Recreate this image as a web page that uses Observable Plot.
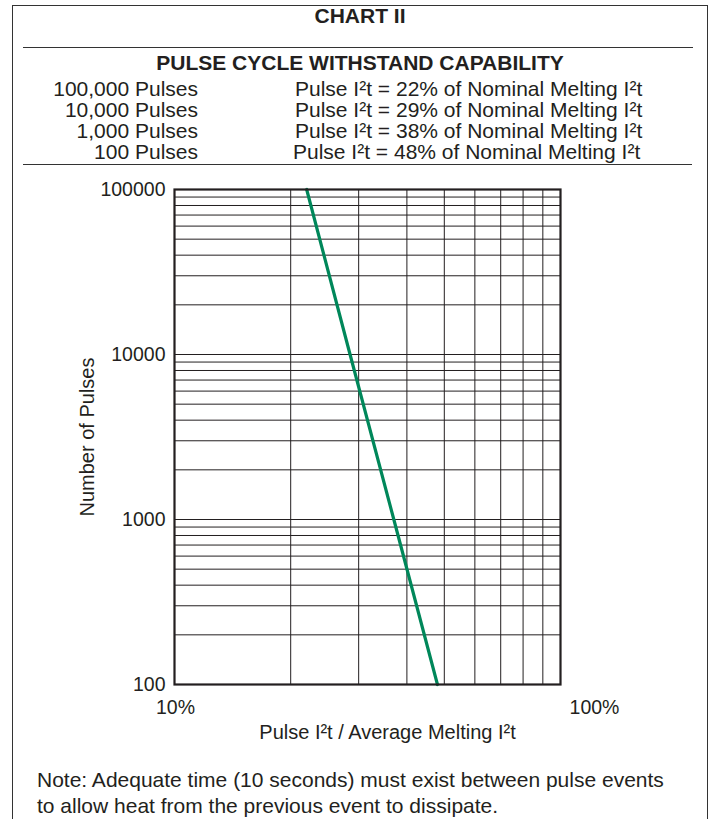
<!DOCTYPE html>
<html>
<head>
<meta charset="utf-8">
<script src="https://cdn.jsdelivr.net/npm/d3@7"></script>
<script src="https://cdn.jsdelivr.net/npm/@observablehq/plot@0.6"></script>
<style>
  html, body { margin: 0; padding: 0; background: #fff; }
  #page { position: relative; width: 711px; height: 819px; overflow: hidden;
          font-family: "Liberation Sans", Arial, Helvetica, sans-serif; color: #231f20; }
  .abs { position: absolute; white-space: nowrap; }
  .rule { position: absolute; border-top: 1.5px solid #333; height: 0; }
  .row { font-size: 21px; line-height: 21px; }
</style>
</head>
<body>
<div id="page">
  <div class="abs" style="left:12px;top:5px;width:694px;height:830px;border:1.5px solid #333;border-bottom:none;"></div>
  <div id="title" class="abs" style="left:12px;width:696px;top:5px;line-height:22px;font-size:21px;font-weight:bold;text-align:center;"></div>
  <div class="rule" style="left:23px;width:670px;top:47px;"></div>
  <div id="subtitle" class="abs" style="left:12px;width:696px;top:52px;line-height:21px;font-size:21px;font-weight:bold;text-align:center;"></div>
  <div id="rows"></div>
  <div class="rule" style="left:23px;width:669px;top:164px;"></div>
  <div id="chart" class="abs" style="left:0;top:160px;"></div>
  <div id="note" class="abs" style="left:37px;top:767px;font-size:21px;line-height:26px;"></div>
</div>
<script>
// ---- data ----
const chartTitle = "CHART II";
const tableTitle = "PULSE CYCLE WITHSTAND CAPABILITY";
const tableCycles = ["100,000 Pulses", "10,000 Pulses", "1,000 Pulses", "100 Pulses"];
const tablePercents = [22, 29, 38, 48];
const curvePulses = [100000, 10000, 1000, 100];
const curvePercent = [22, 28.5, 37, 48];
const yTickValues = [100, 1000, 10000, 100000];
const xTickValues = [10, 100];
const xTickLabels = ["10%", "100%"];
const xTitle = "Pulse I\u00b2t / Average Melting I\u00b2t";
const yTitle = "Number of Pulses";
const noteLines = [
  "Note: Adequate time (10 seconds) must exist between pulse events",
  "to allow heat from the previous event to dissipate."
];

// ---- header ----
document.getElementById("title").textContent = chartTitle;
document.getElementById("subtitle").textContent = tableTitle;
const rows = document.getElementById("rows");
tableCycles.forEach((c, i) => {
  const top = 77.5 + i * 21;
  const l = document.createElement("div");
  l.className = "abs row";
  l.style.cssText = `right:${711 - 198}px;text-align:right;top:${top}px;`;
  l.textContent = c;
  const r = document.createElement("div");
  r.className = "abs row";
  r.style.cssText = `left:${i === 3 ? 293 : 295}px;top:${top}px;`;
  r.textContent = `Pulse I\u00b2t = ${tablePercents[i]}% of Nominal Melting I\u00b2t`;
  rows.appendChild(l);
  rows.appendChild(r);
});
document.getElementById("note").innerHTML = noteLines.join("<br>");

// ---- chart ----
const curve = curvePulses.map((p, i) => ({pulses: p, pct: curvePercent[i]}));
const xGrid = d3.scaleLog().domain([10, 100]).ticks();
const yGrid = d3.scaleLog().domain([100, 100000]).ticks();
const ink = "#231f20";

const chart = Plot.plot({
  width: 711,
  height: 585,
  marginLeft: 174,
  marginRight: 151,
  marginTop: 29,
  marginBottom: 61,
  style: {fontFamily: "'Liberation Sans', Arial, Helvetica, sans-serif", fontSize: "19.5px", color: ink, background: "transparent", overflow: "visible"},
  x: {type: "log", domain: [10, 100]},
  y: {type: "log", domain: [100, 100000]},
  marks: [
    Plot.gridX(xGrid, {stroke: ink, strokeOpacity: 1, strokeWidth: 1}),
    Plot.gridY(yGrid, {stroke: ink, strokeOpacity: 1, strokeWidth: 1}),
    Plot.axisY(yTickValues, {tickSize: 0, tickPadding: 9, tickFormat: d => String(d), label: null, fontSize: 19.5}),
    Plot.axisX([xTickValues[0]], {tickSize: 0, tickPadding: 16, tickFormat: d => xTickLabels[xTickValues.indexOf(d)], label: null, fontSize: 19.5, dx: 1}),
    Plot.axisX([xTickValues[1]], {tickSize: 0, tickPadding: 16, tickFormat: d => xTickLabels[xTickValues.indexOf(d)], label: null, fontSize: 19.5, dx: 34}),
    Plot.line(curve, {x: "pct", y: "pulses", stroke: "#00875a", strokeWidth: 3.2}),
    Plot.frame({stroke: ink, strokeWidth: 2.2}),
    Plot.text([xTitle], {frameAnchor: "bottom", lineAnchor: "middle", textAnchor: "middle", dy: 48, dx: 20, fontSize: 20}),
    Plot.text([yTitle], {frameAnchor: "left", lineAnchor: "middle", textAnchor: "middle", rotate: -90, dx: -87, fontSize: 20})
  ]
});
document.getElementById("chart").appendChild(chart);
</script>
</body>
</html>
